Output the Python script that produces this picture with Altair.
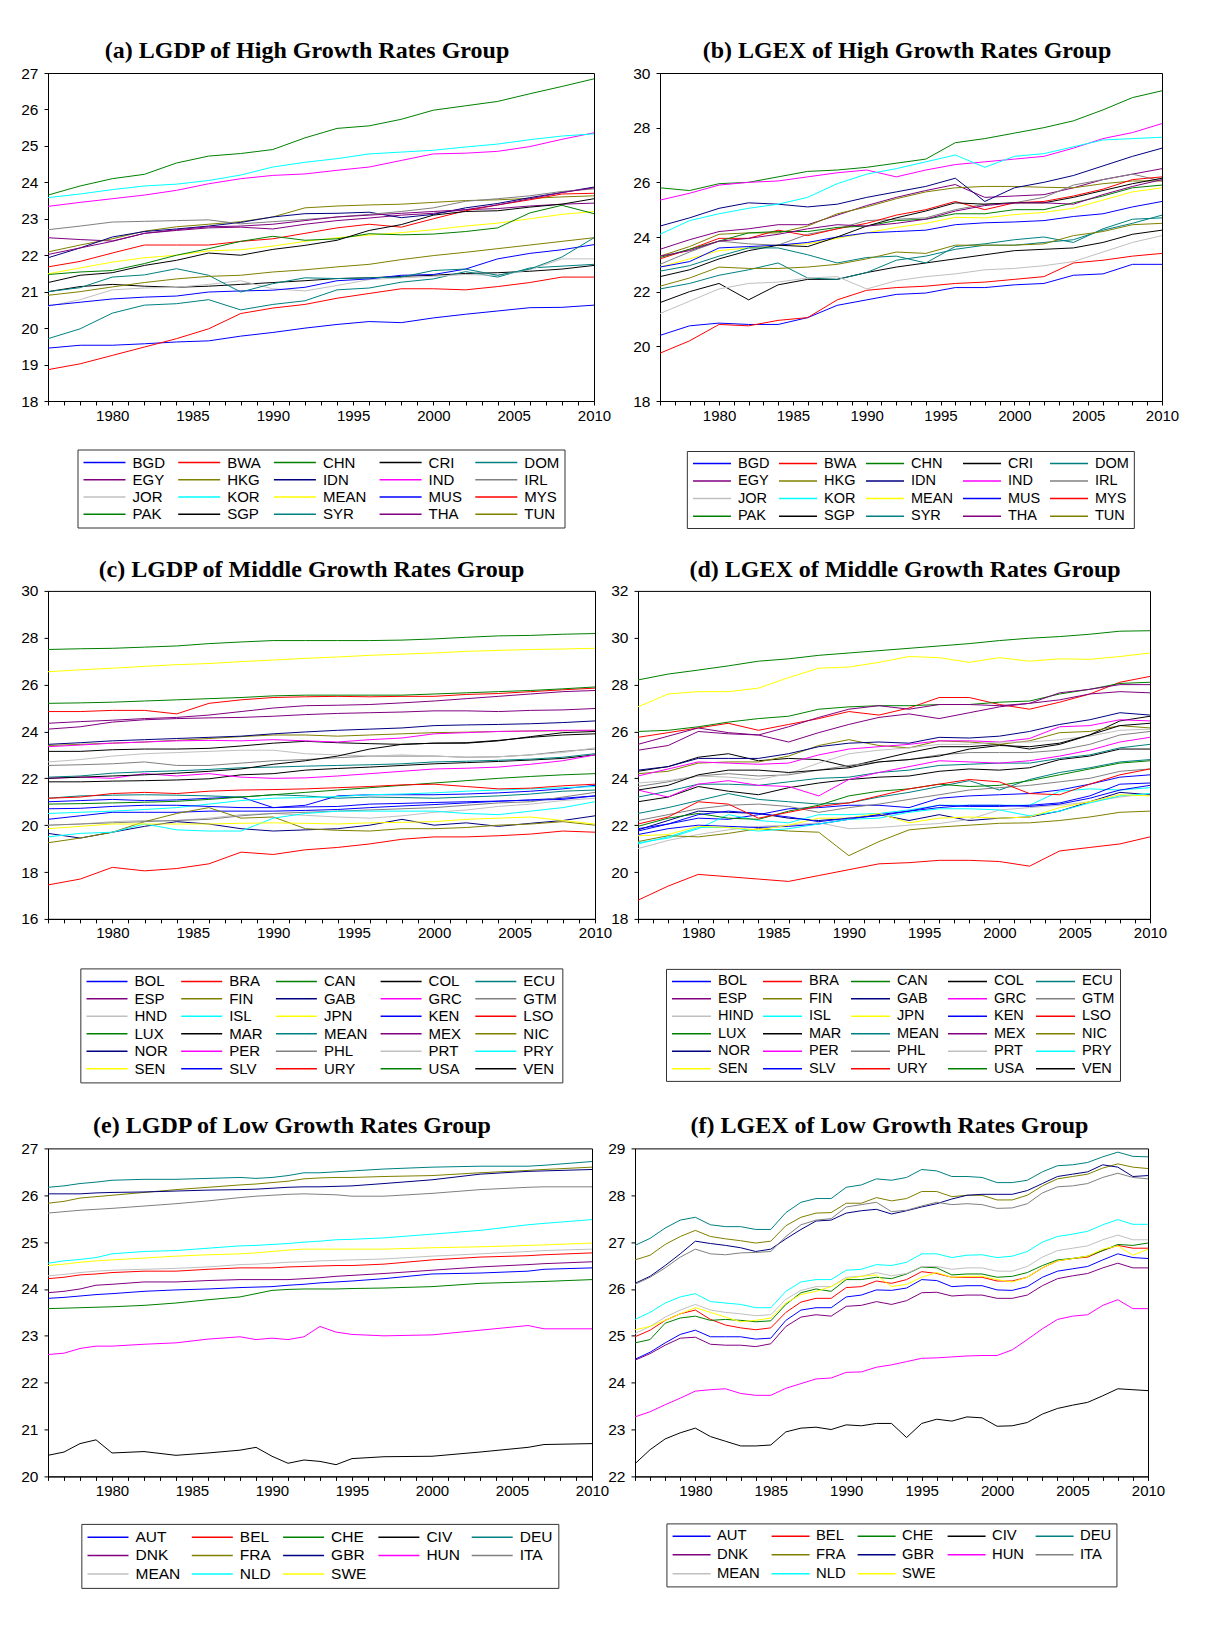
import math
import altair as alt
import pandas as pd

# ---------------- categories ----------------
HIGH = ["BGD", "BWA", "CHN", "CRI", "DOM", "EGY", "HKG", "IDN", "IND", "IRL",
        "JOR", "KOR", "MEAN", "MUS", "MYS", "PAK", "SGP", "SYR", "THA", "TUN"]
MID_C = ["BOL", "BRA", "CAN", "COL", "ECU", "ESP", "FIN", "GAB", "GRC", "GTM",
         "HND", "ISL", "JPN", "KEN", "LSO", "LUX", "MAR", "MEAN", "MEX", "NIC",
         "NOR", "PER", "PHL", "PRT", "PRY", "SEN", "SLV", "URY", "USA", "VEN"]
MID_D = ["BOL", "BRA", "CAN", "COL", "ECU", "ESP", "FIN", "GAB", "GRC", "GTM",
         "HIND", "ISL", "JPN", "KEN", "LSO", "LUX", "MAR", "MEAN", "MEX", "NIC",
         "NOR", "PER", "PHL", "PRT", "PRY", "SEN", "SLV", "URY", "USA", "VEN"]
LOW = ["AUT", "BEL", "CHE", "CIV", "DEU", "DNK", "FRA", "GBR", "HUN", "ITA",
       "MEAN", "NLD", "SWE"]

YEARS_ABCD = [1976, 1978, 1980, 1982, 1984, 1986, 1988, 1990, 1992, 1994,
              1996, 1998, 2000, 2002, 2004, 2006, 2008, 2010]
YEARS_E = [1976, 1977, 1978, 1979, 1980, 1982, 1984, 1986, 1988, 1989, 1990,
           1991, 1992, 1993, 1994, 1995, 1997, 2000, 2003, 2006, 2007, 2010]
YEARS_F = [1976, 1977, 1978, 1979, 1980, 1981, 1982, 1983, 1984, 1985,
           1986, 1987, 1988, 1989, 1990, 1991, 1992, 1993, 1994, 1995,
           1996, 1997, 1998, 1999, 2000, 2001, 2002, 2003, 2004, 2005,
           2006, 2007, 2008, 2009, 2010]
X_TICKS = [1976, 1977, 1978, 1979, 1980, 1981, 1982, 1983, 1984, 1985,
           1986, 1987, 1988, 1989, 1990, 1991, 1992, 1993, 1994, 1995,
           1996, 1997, 1998, 1999, 2000, 2001, 2002, 2003, 2004, 2005,
           2006, 2007, 2008, 2009, 2010]

# ---------------- (a) LGDP high ----------------
a_BGD = [19.45, 19.53, 19.53, 19.57, 19.62, 19.65, 19.78, 19.88, 20.0, 20.1, 20.18, 20.15, 20.28, 20.38, 20.47, 20.56, 20.57, 20.63]
a_BWA = [18.86, 19.02, 19.25, 19.48, 19.71, 19.98, 20.4, 20.55, 20.65, 20.82, 20.95, 21.08, 21.08, 21.05, 21.14, 21.25, 21.4, 21.4]
a_CHN = [23.65, 23.9, 24.1, 24.22, 24.53, 24.72, 24.79, 24.9, 25.22, 25.48, 25.55, 25.73, 25.98, 26.1, 26.22, 26.43, 26.63, 26.84]
a_CRI = [21.0, 21.14, 21.2, 21.15, 21.12, 21.15, 21.2, 21.25, 21.3, 21.36, 21.38, 21.42, 21.45, 21.5, 21.52, 21.56, 21.62, 21.72]
a_DOM = [19.71, 19.98, 20.41, 20.63, 20.67, 20.78, 20.5, 20.65, 20.75, 21.05, 21.1, 21.26, 21.35, 21.55, 21.4, 21.65, 21.7, 21.75]
a_EGY = [22.48, 22.43, 22.39, 22.6, 22.68, 22.75, 22.77, 22.72, 22.85, 22.95, 23.02, 23.1, 23.15, 23.25, 23.28, 23.35, 23.4, 23.43]
a_HKG = [22.09, 22.28, 22.45, 22.66, 22.78, 22.85, 22.92, 23.05, 23.3, 23.35, 23.38, 23.4, 23.45, 23.5, 23.52, 23.56, 23.6, 23.63]
a_IDN = [21.93, 22.2, 22.5, 22.65, 22.72, 22.8, 22.9, 23.05, 23.14, 23.15, 23.18, 23.03, 23.12, 23.3, 23.42, 23.58, 23.72, 23.87]
a_IND = [23.34, 23.45, 23.55, 23.65, 23.78, 23.96, 24.1, 24.19, 24.23, 24.33, 24.42, 24.6, 24.78, 24.8, 24.85, 24.98, 25.18, 25.36]
a_IRL = [22.7, 22.8, 22.91, 22.93, 22.95, 22.97, 22.86, 22.92, 22.98, 23.05, 23.12, 23.2, 23.3, 23.48, 23.55, 23.63, 23.75, 23.82]
a_JOR = [20.6, 20.78, 21.05, 21.1, 21.12, 21.2, 21.3, 21.08, 21.02, 21.17, 21.33, 21.38, 21.42, 21.47, 21.45, 21.6, 21.9, 21.9]
a_KOR = [23.58, 23.68, 23.8, 23.9, 23.95, 24.05, 24.2, 24.42, 24.55, 24.65, 24.78, 24.83, 24.88, 24.97, 25.05, 25.17, 25.27, 25.33]
a_MEAN = [21.49, 21.65, 21.81, 21.93, 22.0, 22.12, 22.15, 22.25, 22.38, 22.48, 22.55, 22.62, 22.7, 22.8, 22.88, 23.0, 23.12, 23.2]
a_MUS = [20.62, 20.71, 20.8, 20.85, 20.88, 20.99, 21.02, 21.04, 21.12, 21.3, 21.35, 21.45, 21.47, 21.62, 21.9, 22.05, 22.15, 22.29]
a_MYS = [21.68, 21.83, 22.06, 22.28, 22.28, 22.28, 22.38, 22.45, 22.6, 22.75, 22.85, 22.77, 23.0, 23.22, 23.38, 23.52, 23.68, 23.7]
a_PAK = [21.47, 21.54, 21.58, 21.77, 22.0, 22.18, 22.38, 22.52, 22.41, 22.45, 22.59, 22.56, 22.58, 22.65, 22.75, 23.16, 23.37, 23.14]
a_SGP = [21.25, 21.45, 21.52, 21.72, 21.86, 22.06, 22.0, 22.16, 22.27, 22.41, 22.68, 22.84, 23.1, 23.2, 23.22, 23.32, 23.4, 23.55]
a_SYR = [21.0, 21.11, 21.4, 21.46, 21.63, 21.45, 20.99, 21.22, 21.38, 21.36, 21.38, 21.4, 21.58, 21.62, 21.45, 21.62, 21.95, 22.48]
a_THA = [22.02, 22.2, 22.38, 22.6, 22.7, 22.78, 22.8, 22.85, 22.95, 23.05, 23.1, 23.15, 23.2, 23.25, 23.38, 23.55, 23.72, 23.85]
a_TUN = [20.9, 21.0, 21.13, 21.25, 21.35, 21.42, 21.45, 21.54, 21.6, 21.68, 21.75, 21.88, 21.99, 22.08, 22.18, 22.28, 22.38, 22.48]

# ---------------- (b) LGEX high ----------------
b_BGD = [20.4, 20.75, 20.85, 20.8, 20.8, 21.05, 21.5, 21.7, 21.9, 21.95, 22.15, 22.15, 22.25, 22.3, 22.6, 22.65, 23.0, 23.0]
b_BWA = [19.75, 20.2, 20.8, 20.75, 20.95, 21.05, 21.7, 22.05, 22.15, 22.2, 22.3, 22.35, 22.45, 22.55, 23.05, 23.15, 23.3, 23.4]
b_CHN = [25.8, 25.7, 25.95, 26.0, 26.2, 26.4, 26.45, 26.55, 26.7, 26.85, 27.45, 27.6, 27.8, 28.0, 28.25, 28.65, 29.1, 29.35]
b_CRI = [21.6, 22.0, 22.3, 21.7, 22.25, 22.45, 22.45, 22.7, 22.9, 23.05, 23.2, 23.35, 23.5, 23.55, 23.6, 23.8, 24.1, 24.25]
b_DOM = [22.1, 22.3, 22.6, 22.8, 23.05, 22.5, 22.45, 22.7, 23.15, 23.3, 23.55, 23.7, 23.7, 23.8, 23.9, 24.25, 24.5, 24.8]
b_EGY = [23.55, 23.9, 24.2, 24.3, 24.45, 24.45, 24.8, 25.15, 25.45, 25.7, 25.92, 25.45, 25.5, 25.55, 25.8, 26.1, 26.3, 26.5]
b_HKG = [23.3, 23.65, 24.1, 24.15, 24.15, 24.4, 24.85, 25.1, 25.4, 25.65, 25.8, 25.85, 25.85, 25.82, 25.8, 25.95, 26.05, 26.05]
b_IDN = [24.4, 24.7, 25.05, 25.25, 25.2, 25.1, 25.2, 25.45, 25.65, 25.85, 26.15, 25.3, 25.8, 26.0, 26.25, 26.6, 26.95, 27.25]
b_IND = [25.35, 25.6, 25.9, 26.0, 26.05, 26.2, 26.35, 26.45, 26.2, 26.45, 26.65, 26.75, 26.85, 26.95, 27.25, 27.6, 27.82, 28.15]
b_IRL = [23.0, 23.45, 23.85, 23.75, 23.7, 24.1, 24.3, 24.6, 24.65, 24.7, 25.0, 25.2, 25.25, 25.45, 25.9, 26.1, 26.3, 26.05]
b_JOR = [21.2, 21.65, 22.1, 22.3, 22.35, 22.5, 22.55, 22.1, 22.4, 22.55, 22.65, 22.8, 22.85, 22.95, 23.1, 23.45, 23.8, 24.05]
b_KOR = [24.1, 24.6, 24.85, 25.05, 25.2, 25.45, 25.95, 26.3, 26.5, 26.75, 27.0, 26.55, 26.95, 27.05, 27.3, 27.55, 27.6, 27.65]
b_MEAN = [22.9, 23.2, 23.5, 23.6, 23.7, 23.75, 23.95, 24.15, 24.35, 24.5, 24.72, 24.7, 24.82, 24.9, 25.05, 25.35, 25.65, 25.8]
b_MUS = [22.9, 23.1, 23.6, 23.65, 23.7, 23.8, 24.0, 24.15, 24.2, 24.25, 24.45, 24.52, 24.55, 24.6, 24.75, 24.85, 25.1, 25.3]
b_MYS = [23.2, 23.55, 23.95, 23.95, 24.25, 24.05, 24.3, 24.5, 24.8, 25.0, 25.3, 25.0, 25.25, 25.3, 25.5, 25.75, 26.1, 26.2]
b_PAK = [23.25, 23.55, 23.85, 24.15, 24.2, 24.2, 24.35, 24.4, 24.6, 24.65, 24.85, 24.85, 25.0, 25.0, 25.25, 25.5, 25.8, 25.9]
b_SGP = [22.55, 22.8, 23.2, 23.5, 23.7, 23.65, 24.0, 24.4, 24.7, 24.95, 25.25, 25.2, 25.25, 25.25, 25.45, 25.7, 25.95, 26.15]
b_SYR = [22.75, 22.95, 23.3, 23.6, 23.6, 23.35, 23.05, 23.25, 23.3, 23.05, 23.65, 23.75, 23.9, 24.0, 23.8, 24.3, 24.65, 24.7]
b_THA = [23.3, 23.5, 23.85, 23.95, 24.1, 24.3, 24.45, 24.4, 24.5, 24.65, 24.95, 25.15, 25.25, 25.25, 25.2, 25.55, 25.85, 26.1]
b_TUN = [22.2, 22.5, 22.9, 22.85, 22.85, 22.9, 23.0, 23.2, 23.45, 23.4, 23.7, 23.7, 23.7, 23.75, 24.05, 24.2, 24.45, 24.5]

# ---------------- (c) LGDP middle ----------------
c_BOL = [21.0, 21.05, 21.1, 21.05, 21.08, 21.15, 21.2, 20.75, 20.85, 21.25, 21.3, 21.3, 21.3, 21.33, 21.38, 21.45, 21.55, 21.7]
c_BRA = [24.85, 24.85, 24.9, 24.9, 24.75, 25.2, 25.35, 25.45, 25.48, 25.5, 25.48, 25.5, 25.5, 25.58, 25.62, 25.7, 25.78, 25.85]
c_CAN = [25.2, 25.22, 25.25, 25.3, 25.35, 25.4, 25.45, 25.52, 25.55, 25.55, 25.55, 25.55, 25.6, 25.65, 25.7, 25.75, 25.82, 25.9]
c_COL = [23.15, 23.15, 23.22, 23.25, 23.25, 23.28, 23.38, 23.5, 23.58, 23.52, 23.48, 23.45, 23.5, 23.5, 23.6, 23.78, 23.95, 24.0]
c_ECU = [21.15, 21.25, 21.28, 21.3, 21.28, 21.25, 21.2, 21.3, 21.25, 21.15, 21.2, 21.18, 21.15, 21.2, 21.25, 21.33, 21.45, 21.5]
c_ESP = [24.35, 24.42, 24.48, 24.55, 24.6, 24.7, 24.85, 25.0, 25.1, 25.12, 25.15, 25.22, 25.3, 25.4, 25.5, 25.6, 25.7, 25.75]
c_FIN = [23.4, 23.45, 23.5, 23.55, 23.62, 23.7, 23.78, 23.85, 23.85, 23.8, 23.85, 23.9, 23.95, 23.97, 24.0, 24.02, 24.03, 24.05]
c_GAB = [19.65, 19.45, 19.7, 19.95, 20.15, 20.05, 19.85, 19.75, 19.8, 19.85, 20.0, 20.25, 20.0, 20.1, 19.95, 20.08, 20.2, 20.4]
c_GRC = [23.35, 23.42, 23.5, 23.55, 23.6, 23.62, 23.6, 23.65, 23.6, 23.55, 23.65, 23.72, 23.9, 23.95, 24.0, 24.02, 24.05, 24.05]
c_GTM = [22.55, 22.58, 22.62, 22.7, 22.55, 22.55, 22.65, 22.75, 22.8, 22.88, 22.95, 22.95, 22.95, 22.9, 22.92, 23.0, 23.15, 23.25]
c_HND = [20.0, 20.05, 20.15, 20.2, 20.2, 20.3, 20.45, 20.5, 20.42, 20.35, 20.3, 20.4, 20.55, 20.65, 20.8, 20.9, 21.05, 21.15]
c_ISL = [20.5, 20.55, 20.6, 20.67, 20.75, 20.9, 21.05, 21.15, 21.18, 21.22, 21.3, 21.33, 21.38, 21.45, 21.5, 21.55, 21.6, 21.65]
c_JPN = [26.55, 26.63, 26.7, 26.78, 26.85, 26.9, 26.98, 27.05, 27.12, 27.18, 27.25, 27.3, 27.35, 27.42, 27.46, 27.5, 27.52, 27.55]
c_KEN = [20.25, 20.4, 20.55, 20.55, 20.55, 20.6, 20.6, 20.6, 20.63, 20.67, 20.75, 20.82, 20.88, 20.95, 21.02, 21.08, 21.15, 21.25]
c_LSO = [17.45, 17.7, 18.2, 18.05, 18.15, 18.35, 18.85, 18.75, 18.95, 19.05, 19.2, 19.4, 19.5, 19.5, 19.55, 19.62, 19.75, 19.7]
c_LUX = [20.9, 20.92, 20.95, 20.98, 21.02, 21.1, 21.2, 21.3, 21.4, 21.5, 21.6, 21.7, 21.8, 21.9, 22.0, 22.08, 22.15, 22.2]
c_MAR = [21.85, 21.85, 21.88, 21.9, 21.93, 21.98, 22.15, 22.2, 22.35, 22.42, 22.48, 22.55, 22.62, 22.67, 22.72, 22.78, 22.85, 23.0]
c_MEAN = [22.05, 22.1, 22.22, 22.28, 22.32, 22.38, 22.45, 22.48, 22.52, 22.55, 22.58, 22.62, 22.7, 22.73, 22.77, 22.82, 22.9, 23.05]
c_MEX = [24.1, 24.2, 24.4, 24.5, 24.55, 24.58, 24.6, 24.65, 24.72, 24.77, 24.8, 24.83, 24.88, 24.88, 24.85, 24.9, 24.92, 24.98]
c_NIC = [19.25, 19.45, 19.7, 20.15, 20.5, 20.75, 20.3, 20.35, 19.85, 19.78, 19.75, 19.85, 19.85, 19.9, 20.0, 20.05, 20.15, 20.0]
c_NOR = [23.45, 23.52, 23.6, 23.65, 23.7, 23.75, 23.8, 23.9, 23.98, 24.05, 24.1, 24.15, 24.25, 24.28, 24.3, 24.33, 24.38, 24.45]
c_PER = [22.0, 22.05, 22.0, 22.2, 22.1, 22.2, 22.05, 22.0, 22.02, 22.1, 22.2, 22.3, 22.4, 22.43, 22.48, 22.6, 22.75, 23.0]
c_PHL = [20.0, 20.05, 20.1, 20.15, 20.2, 20.25, 20.4, 20.5, 20.55, 20.6, 20.65, 20.7, 20.75, 20.85, 20.95, 21.0, 21.2, 21.4]
c_PRT = [22.7, 22.8, 22.95, 23.05, 23.1, 23.15, 23.2, 23.2, 23.05, 23.0, 22.95, 23.0, 22.95, 22.9, 22.92, 23.0, 23.1, 23.3]
c_PRY = [19.5, 19.65, 19.7, 20.05, 19.8, 19.75, 19.75, 20.3, 20.5, 20.6, 20.6, 20.6, 20.6, 20.5, 20.45, 20.6, 20.75, 21.0]
c_SEN = [19.85, 19.95, 20.05, 20.05, 20.05, 20.05, 20.08, 20.1, 20.08, 20.05, 20.1, 20.12, 20.15, 20.25, 20.3, 20.35, 20.2, 20.05]
c_SLV = [20.7, 20.72, 20.8, 20.85, 20.85, 20.8, 20.75, 20.75, 20.78, 20.8, 20.9, 20.93, 20.97, 21.0, 21.03, 21.07, 21.1, 21.25]
c_URY = [21.15, 21.2, 21.35, 21.4, 21.35, 21.45, 21.5, 21.52, 21.55, 21.6, 21.65, 21.72, 21.75, 21.65, 21.55, 21.58, 21.68, 21.75]
c_USA = [27.5, 27.53, 27.55, 27.6, 27.65, 27.75, 27.82, 27.88, 27.88, 27.88, 27.88, 27.9, 27.95, 28.02, 28.08, 28.1, 28.15, 28.18]
c_VEN = [22.0, 22.05, 22.1, 22.15, 22.22, 22.3, 22.4, 22.6, 22.75, 22.95, 23.25, 23.45, 23.5, 23.52, 23.62, 23.75, 23.85, 23.9]

# ---------------- (d) LGEX middle ----------------
d_BOL = [21.75, 22.05, 22.3, 22.25, 22.45, 22.7, 22.75, 22.85, 22.85, 22.75, 23.15, 23.25, 23.3, 23.35, 23.5, 23.75, 24.05, 24.15]
d_BRA = [25.75, 25.95, 26.15, 26.35, 26.05, 26.3, 26.55, 26.85, 26.7, 27.0, 27.45, 27.45, 27.15, 26.95, 27.25, 27.6, 28.1, 28.35]
d_CAN = [26.0, 26.05, 26.2, 26.4, 26.55, 26.65, 26.95, 27.05, 27.1, 27.1, 27.15, 27.15, 27.25, 27.3, 27.6, 27.8, 28.05, 28.1]
d_COL = [24.3, 24.5, 24.9, 25.05, 24.75, 24.85, 24.8, 24.5, 24.8, 25.1, 25.35, 25.35, 25.45, 25.25, 25.45, 25.85, 26.45, 26.65]
d_ECU = [22.5, 22.75, 23.05, 23.35, 23.1, 23.0, 22.9, 22.95, 23.2, 23.4, 23.65, 23.9, 23.5, 23.95, 24.25, 24.45, 24.7, 24.8]
d_ESP = [25.45, 25.8, 26.15, 25.95, 25.85, 26.2, 26.6, 26.95, 27.1, 26.95, 27.15, 27.15, 27.1, 27.2, 27.65, 27.8, 28.0, 28.0]
d_FIN = [24.2, 24.3, 24.65, 24.7, 24.7, 24.95, 25.4, 25.65, 25.4, 25.3, 25.6, 25.55, 25.45, 25.6, 25.95, 26.0, 26.25, 26.15]
d_GAB = [21.8, 22.2, 22.6, 22.55, 22.5, 22.3, 22.2, 22.3, 22.45, 22.2, 22.45, 22.2, 22.3, 22.35, 22.6, 23.0, 23.4, 23.3]
d_GRC = [24.1, 24.4, 24.7, 24.65, 24.6, 24.65, 25.0, 25.25, 25.35, 25.45, 25.6, 25.6, 25.55, 25.7, 26.2, 26.25, 26.5, 26.45]
d_GTM = [23.65, 23.85, 24.1, 24.2, 24.1, 24.15, 24.35, 24.55, 24.7, 24.8, 25.0, 25.1, 25.1, 25.1, 25.2, 25.45, 25.85, 26.0]
d_HIND = [21.0, 21.35, 21.6, 21.8, 21.95, 22.0, 22.1, 21.85, 21.9, 22.0, 22.07, 22.25, 22.65, 22.75, 22.85, 23.0, 23.2, 23.35]
d_ISL = [21.25, 21.45, 21.85, 22.45, 22.2, 22.1, 22.45, 22.45, 22.5, 22.65, 22.85, 22.85, 22.85, 22.85, 23.45, 23.55, 23.5, 23.6]
d_JPN = [27.05, 27.6, 27.7, 27.7, 27.85, 28.3, 28.7, 28.75, 28.95, 29.2, 29.15, 28.95, 29.15, 29.0, 29.1, 29.08, 29.2, 29.35]
d_KEN = [21.6, 21.85, 22.0, 21.95, 21.9, 21.95, 22.05, 22.25, 22.45, 22.6, 22.75, 22.85, 22.85, 22.8, 22.9, 23.15, 23.5, 23.7]
d_LSO = [18.8, 19.4, 19.9, 19.8, 19.7, 19.6, 19.85, 20.1, 20.35, 20.4, 20.5, 20.5, 20.45, 20.25, 20.9, 21.05, 21.2, 21.5]
d_LUX = [21.95, 22.3, 22.5, 22.3, 22.25, 22.6, 22.85, 23.25, 23.45, 23.55, 23.75, 23.65, 23.7, 23.9, 24.15, 24.4, 24.65, 24.75]
d_MAR = [23.0, 23.2, 23.65, 23.45, 23.3, 23.6, 23.8, 23.95, 24.05, 24.1, 24.3, 24.4, 24.35, 24.45, 24.8, 24.95, 25.25, 25.25]
d_MEAN = [23.2, 23.45, 23.75, 23.75, 23.7, 23.85, 24.0, 24.05, 24.25, 24.35, 24.55, 24.6, 24.65, 24.65, 24.85, 25.0, 25.3, 25.45]
d_MEX = [25.2, 25.4, 26.0, 25.9, 25.85, 25.55, 25.95, 26.3, 26.6, 26.75, 26.55, 26.8, 27.05, 27.2, 27.35, 27.6, 27.7, 27.65]
d_NIC = [21.3, 21.55, 21.5, 21.65, 21.85, 21.75, 21.7, 20.7, 21.3, 21.8, 21.92, 22.0, 22.08, 22.1, 22.2, 22.35, 22.55, 22.6]
d_NOR = [24.35, 24.5, 24.85, 24.85, 24.85, 25.05, 25.35, 25.5, 25.55, 25.5, 25.75, 25.72, 25.8, 26.0, 26.3, 26.5, 26.8, 26.7]
d_PER = [23.5, 23.2, 23.75, 23.9, 23.7, 23.65, 23.25, 23.95, 24.25, 24.5, 24.75, 24.7, 24.65, 24.75, 24.95, 25.2, 25.55, 25.75]
d_PHL = [22.2, 22.45, 22.7, 22.85, 22.9, 22.8, 22.55, 22.75, 22.9, 23.1, 23.3, 23.5, 23.6, 23.7, 23.85, 24.0, 24.3, 24.4]
d_PRT = [23.8, 23.9, 24.1, 24.05, 23.95, 24.2, 24.65, 25.05, 25.2, 25.3, 25.45, 25.45, 25.55, 25.55, 25.65, 25.8, 26.05, 26.1]
d_PRY = [21.2, 21.5, 21.9, 21.9, 21.75, 21.85, 22.05, 22.25, 22.3, 22.55, 22.7, 22.7, 22.65, 22.4, 22.6, 22.95, 23.25, 23.35]
d_SEN = [21.55, 21.6, 21.95, 21.9, 21.8, 22.0, 22.3, 22.3, 22.5, 22.1, 22.3, 22.35, 22.3, 22.35, 22.75, 23.0, 23.3, 23.25]
d_SLV = [21.85, 22.05, 22.45, 22.6, 22.5, 22.35, 22.15, 22.3, 22.4, 22.6, 22.85, 22.8, 22.8, 22.85, 22.95, 23.25, 23.75, 23.8]
d_URY = [22.05, 22.35, 23.0, 22.9, 22.3, 22.55, 22.8, 22.95, 23.25, 23.55, 23.75, 23.95, 23.85, 23.35, 23.3, 23.75, 24.15, 24.4]
d_USA = [28.2, 28.45, 28.62, 28.8, 29.0, 29.1, 29.25, 29.35, 29.45, 29.55, 29.65, 29.75, 29.88, 29.98, 30.05, 30.15, 30.28, 30.3]
d_VEN = [23.5, 23.7, 24.15, 24.35, 24.35, 24.25, 24.35, 24.45, 24.7, 24.8, 24.95, 25.25, 25.4, 25.35, 25.5, 25.85, 26.25, 26.35]

# ---------------- (e) LGDP low ----------------
e_AUT = [23.8, 23.82, 23.85, 23.88, 23.9, 23.95, 23.98, 24.0, 24.03, 24.04, 24.05, 24.08, 24.1, 24.13, 24.15, 24.17, 24.22, 24.32, 24.34, 24.38, 24.42, 24.45]
e_BEL = [24.22, 24.25, 24.3, 24.32, 24.35, 24.38, 24.38, 24.42, 24.45, 24.45, 24.45, 24.47, 24.48, 24.49, 24.5, 24.5, 24.53, 24.62, 24.68, 24.71, 24.73, 24.77]
e_CHE = [23.58, 23.59, 23.6, 23.61, 23.62, 23.65, 23.7, 23.77, 23.83, 23.9, 23.97, 23.99, 24.0, 24.0, 24.0, 24.01, 24.02, 24.05, 24.12, 24.15, 24.16, 24.2]
e_CIV = [20.45, 20.52, 20.7, 20.78, 20.5, 20.53, 20.45, 20.5, 20.56, 20.62, 20.43, 20.28, 20.35, 20.32, 20.25, 20.38, 20.42, 20.43, 20.52, 20.62, 20.68, 20.7]
e_DEU = [26.17, 26.2, 26.25, 26.28, 26.32, 26.34, 26.34, 26.36, 26.38, 26.36, 26.38, 26.42, 26.48, 26.48, 26.5, 26.52, 26.56, 26.6, 26.62, 26.62, 26.64, 26.72]
e_DNK = [23.92, 23.95, 24.0, 24.08, 24.1, 24.15, 24.15, 24.18, 24.2, 24.2, 24.2, 24.2, 24.22, 24.24, 24.27, 24.29, 24.33, 24.4, 24.47, 24.52, 24.54, 24.58]
e_FRA = [25.83, 25.87, 25.94, 25.97, 26.0, 26.06, 26.12, 26.17, 26.22, 26.24, 26.27, 26.3, 26.35, 26.37, 26.38, 26.38, 26.4, 26.42, 26.48, 26.53, 26.55, 26.6]
e_GBR = [26.03, 26.03, 26.03, 26.05, 26.06, 26.07, 26.09, 26.11, 26.12, 26.13, 26.15, 26.17, 26.18, 26.18, 26.19, 26.2, 26.25, 26.33, 26.45, 26.51, 26.52, 26.55]
e_HUN = [22.6, 22.63, 22.73, 22.78, 22.78, 22.82, 22.85, 22.93, 22.98, 22.92, 22.95, 22.92, 22.98, 23.2, 23.08, 23.03, 23.0, 23.02, 23.12, 23.22, 23.15, 23.15]
e_ITA = [25.62, 25.65, 25.68, 25.7, 25.72, 25.77, 25.82, 25.88, 25.95, 25.98, 26.0, 26.02, 26.03, 26.02, 26.01, 25.98, 25.98, 26.04, 26.12, 26.17, 26.18, 26.18]
e_MEAN = [24.28, 24.31, 24.35, 24.38, 24.4, 24.42, 24.44, 24.47, 24.52, 24.53, 24.55, 24.57, 24.58, 24.6, 24.61, 24.62, 24.64, 24.7, 24.75, 24.8, 24.82, 24.85]
e_NLD = [24.55, 24.6, 24.63, 24.67, 24.75, 24.8, 24.82, 24.87, 24.92, 24.93, 24.95, 24.97, 25.0, 25.02, 25.05, 25.06, 25.09, 25.17, 25.25, 25.37, 25.4, 25.48]
e_SWE = [24.5, 24.53, 24.57, 24.6, 24.62, 24.66, 24.7, 24.73, 24.75, 24.77, 24.8, 24.83, 24.85, 24.85, 24.85, 24.85, 24.85, 24.88, 24.9, 24.93, 24.94, 24.98]

# ---------------- (f) LGEX low ----------------
f_AUT = [24.5, 24.65, 24.85, 25.03, 25.12, 24.98, 24.98, 24.98, 24.93, 24.95, 25.33, 25.55, 25.6, 25.6, 25.83, 25.87, 25.98, 25.97, 26.02, 26.2, 26.18, 26.05, 26.07, 26.07, 25.98, 25.97, 26.05, 26.25, 26.38, 26.43, 26.48, 26.62, 26.75, 26.67, 26.65]
f_BEL = [24.98, 25.12, 25.33, 25.47, 25.55, 25.35, 25.23, 25.17, 25.13, 25.17, 25.5, 25.72, 25.8, 25.8, 26.03, 26.05, 26.17, 26.12, 26.2, 26.37, 26.33, 26.25, 26.25, 26.25, 26.17, 26.17, 26.25, 26.45, 26.6, 26.65, 26.68, 26.82, 26.93, 26.87, 26.87]
f_CHE = [24.85, 24.92, 25.27, 25.38, 25.42, 25.33, 25.35, 25.33, 25.3, 25.32, 25.67, 25.92, 26.0, 25.95, 26.2, 26.2, 26.25, 26.22, 26.32, 26.47, 26.45, 26.3, 26.32, 26.32, 26.25, 26.27, 26.35, 26.5, 26.62, 26.65, 26.7, 26.82, 26.95, 26.93, 26.98]
f_CIV = [22.27, 22.57, 22.8, 22.93, 23.03, 22.85, 22.75, 22.65, 22.65, 22.67, 22.95, 23.03, 23.05, 23.0, 23.1, 23.08, 23.13, 23.13, 22.83, 23.13, 23.22, 23.18, 23.27, 23.25, 23.07, 23.08, 23.15, 23.33, 23.45, 23.52, 23.58, 23.72, 23.87, 23.85, 23.83]
f_DEU = [26.93, 27.08, 27.3, 27.47, 27.53, 27.37, 27.33, 27.33, 27.27, 27.27, 27.63, 27.85, 27.93, 27.93, 28.17, 28.22, 28.35, 28.32, 28.38, 28.55, 28.52, 28.4, 28.4, 28.38, 28.27, 28.27, 28.32, 28.5, 28.63, 28.65, 28.7, 28.82, 28.92, 28.83, 28.82]
f_DNK = [24.48, 24.62, 24.8, 24.95, 24.97, 24.82, 24.8, 24.8, 24.77, 24.83, 25.2, 25.4, 25.45, 25.42, 25.63, 25.65, 25.73, 25.67, 25.75, 25.92, 25.93, 25.85, 25.87, 25.87, 25.8, 25.8, 25.87, 26.07, 26.22, 26.28, 26.33, 26.45, 26.55, 26.45, 26.45]
f_FRA = [26.62, 26.72, 26.95, 27.12, 27.25, 27.12, 27.07, 27.03, 26.98, 27.02, 27.35, 27.53, 27.62, 27.63, 27.83, 27.83, 27.95, 27.88, 27.93, 28.08, 28.08, 27.97, 28.0, 28.0, 27.9, 27.9, 28.0, 28.2, 28.35, 28.4, 28.45, 28.58, 28.67, 28.6, 28.57]
f_GBR = [26.12, 26.27, 26.5, 26.75, 27.02, 26.97, 26.93, 26.88, 26.8, 26.85, 27.07, 27.27, 27.45, 27.47, 27.62, 27.67, 27.7, 27.6, 27.67, 27.75, 27.82, 27.92, 28.0, 28.02, 28.02, 28.02, 28.1, 28.25, 28.4, 28.45, 28.5, 28.65, 28.6, 28.4, 28.42]
f_HUN = [23.27, 23.38, 23.53, 23.67, 23.82, 23.85, 23.87, 23.77, 23.73, 23.73, 23.88, 23.98, 24.08, 24.1, 24.22, 24.23, 24.33, 24.38, 24.45, 24.52, 24.53, 24.55, 24.57, 24.58, 24.58, 24.7, 24.92, 25.15, 25.35, 25.42, 25.45, 25.65, 25.77, 25.58, 25.58]
f_ITA = [26.1, 26.25, 26.45, 26.68, 26.85, 26.75, 26.73, 26.77, 26.78, 26.8, 27.12, 27.37, 27.47, 27.5, 27.75, 27.8, 27.85, 27.65, 27.68, 27.77, 27.85, 27.8, 27.82, 27.8, 27.72, 27.73, 27.82, 28.05, 28.18, 28.2, 28.25, 28.38, 28.47, 28.38, 28.35]
f_MEAN = [25.05, 25.2, 25.4, 25.55, 25.67, 25.55, 25.5, 25.47, 25.43, 25.45, 25.78, 25.97, 26.05, 26.05, 26.25, 26.27, 26.35, 26.28, 26.33, 26.48, 26.48, 26.42, 26.45, 26.45, 26.38, 26.38, 26.48, 26.68, 26.82, 26.87, 26.92, 27.05, 27.15, 27.05, 27.05]
f_NLD = [25.35, 25.5, 25.7, 25.83, 25.9, 25.73, 25.7, 25.67, 25.6, 25.6, 25.95, 26.15, 26.2, 26.2, 26.4, 26.42, 26.52, 26.5, 26.57, 26.75, 26.75, 26.67, 26.72, 26.73, 26.67, 26.7, 26.8, 27.0, 27.12, 27.17, 27.23, 27.37, 27.48, 27.38, 27.38]
f_SWE = [25.13, 25.2, 25.33, 25.47, 25.6, 25.5, 25.4, 25.3, 25.33, 25.38, 25.7, 25.88, 25.95, 26.05, 26.22, 26.27, 26.3, 26.05, 26.1, 26.25, 26.35, 26.25, 26.27, 26.27, 26.2, 26.15, 26.25, 26.45, 26.6, 26.65, 26.7, 26.85, 26.92, 26.72, 26.85]

# EViews default line palette (repeats after 13 colours)
PALETTE = ["#0000ff", "#ff0000", "#008000", "#000000", "#008080", "#800080",
           "#808000", "#000080", "#ff00ff", "#808080", "#c0c0c0", "#00ffff",
           "#ffff00"]

SANS = "Liberation Sans"
SERIF = "Liberation Serif"
LEG_PAD = 5
ROW_FIX = 1.5
# legend sample line: custom path from -r to 5r (length 6r)
LINE_PATH = "M-1,0H5"


def legend_for(cfg, plot_left, plot_top):
    L = cfg["sym"]
    r = L / 6.0
    entry = max(math.ceil(L / 3.0 + 1.5), cfg["font"])
    line_left = entry / 2.0 - r
    line_right = entry / 2.0 + 5 * r
    label_off = line_right + cfg["gap"] - entry
    return alt.Legend(
        title=None, orient="none",
        legendX=cfg["sym_x"] - line_left - LEG_PAD - plot_left,
        legendY=cfg["row1"] - entry / 2.0 - LEG_PAD - plot_top + ROW_FIX,
        columns=5, direction="horizontal",
        symbolType=LINE_PATH, symbolSize=(L / 3.0) ** 2,
        symbolStrokeWidth=1.5,
        labelFont=SANS, labelFontSize=cfg["font"], labelColor="black",
        labelOffset=label_off,
        columnPadding=cfg["cp"], rowPadding=cfg["rp"],
        padding=LEG_PAD, strokeColor="#333333", fillColor="white")


def panel(title, names, years, prefix, ydom, yticks, width, plot_left,
          plot_top, leg, tdx, toff):
    rows = []
    for n in names:
        vals = globals()[prefix + "_" + n]
        assert len(vals) == len(years), (prefix, n, len(vals))
        for yr, v in zip(years, vals):
            rows.append({"year": yr, "value": v, "series": n})
    df = pd.DataFrame(rows)
    colors = [PALETTE[i % len(PALETTE)] for i in range(len(names))]
    return alt.Chart(df).mark_line(strokeWidth=1).encode(
        x=alt.X("year:Q", title=None,
                scale=alt.Scale(domain=[1976, 2010], nice=False, zero=False),
                axis=alt.Axis(values=X_TICKS, format="d",
                              labelExpr="datum.value % 5 == 0 ? datum.label : ''",
                              labelFlush=False, labelOverlap=False,
                              labelFontSize=15, labelPadding=3)),
        y=alt.Y("value:Q", title=None,
                scale=alt.Scale(domain=ydom, nice=False, zero=False),
                axis=alt.Axis(values=yticks, format="d", labelFontSize=15.5,
                              labelPadding=6)),
        color=alt.Color("series:N",
                        scale=alt.Scale(domain=names, range=colors),
                        legend=legend_for(leg, plot_left, plot_top)),
    ).properties(
        width=width, height=328,
        title=alt.TitleParams(title, font=SERIF, fontSize=24,
                              fontWeight="bold", color="black",
                              anchor="middle", frame="group", dx=tdx,
                              offset=toff),
    )


pa = panel("(a) LGDP of High Growth Rates Group", HIGH, YEARS_ABCD, "a",
           [18, 27], [18, 19, 20, 21, 22, 23, 24, 25, 26, 27], 546, 47.5, 73,
           dict(sym_x=83, row1=461, sym=42, font=15, gap=7, cp=9.7, rp=1.27),
           -14, 3.25)
pb = panel("(b) LGEX of High Growth Rates Group", HIGH, YEARS_ABCD, "b",
           [18, 30], [18, 20, 22, 24, 26, 28, 30], 502, 659, 73,
           dict(sym_x=692, row1=462, sym=38, font=14.5, gap=7, cp=6, rp=2.55),
           -4, 3.25)
pc = panel("(c) LGDP of Middle Growth Rates Group", MID_C, YEARS_ABCD, "c",
           [16, 30], [16, 18, 20, 22, 24, 26, 28, 30], 547, 47.5, 592,
           dict(sym_x=86, row1=981, sym=41, font=15, gap=7, cp=9.7, rp=1.45),
           -10, 2.25)
pd_ = panel("(d) LGEX of Middle Growth Rates Group", MID_D, YEARS_ABCD, "d",
            [18, 32], [18, 20, 22, 24, 26, 28, 30, 32], 512, 637, 592,
            dict(sym_x=671, row1=981, sym=39, font=14.5, gap=7, cp=6, rp=2.45),
            11, 2.25)
pe = panel("(e) LGDP of Low Growth Rates Group", LOW, YEARS_E, "e",
           [20, 27], [20, 21, 22, 23, 24, 25, 26, 27], 544, 47.5, 1148,
           dict(sym_x=87, row1=1535, sym=41, font=15.5, gap=7, cp=8.3, rp=1.5),
           -28, 3.8)
pf = panel("(f) LGEX of Low Growth Rates Group", LOW, YEARS_F, "f",
           [22, 29], [22, 23, 24, 25, 26, 27, 28, 29], 513, 634.4, 1148,
           dict(sym_x=672, row1=1534, sym=38, font=14.8, gap=6.4, cp=8, rp=2.9),
           -2, 3.8)


def row(left, right, sp):
    return alt.hconcat(left, right, spacing=sp, bounds="flush").resolve_scale(
        color="independent").resolve_legend(color="independent")


r1 = row(pa, pb, 66)
r2 = row(pc, pd_, 43)
r3 = row(pe, pf, 43)

lower = alt.vconcat(r2, r3, spacing=28.5).resolve_scale(
    color="independent").resolve_legend(color="independent")

chart = alt.vconcat(r1, lower, spacing=27.9).resolve_scale(
    color="independent").resolve_legend(color="independent").properties(
    padding={"left": 12, "top": 30, "right": 5, "bottom": 5},
    background="white",
).configure_view(
    stroke="black", strokeWidth=1
).configure_axis(
    labelFont=SANS, labelColor="black", domainColor="black",
    tickColor="black", tickSize=4, grid=False, domainWidth=1
)

chart.save("out.html", embed_options={"renderer": "svg", "actions": False})
